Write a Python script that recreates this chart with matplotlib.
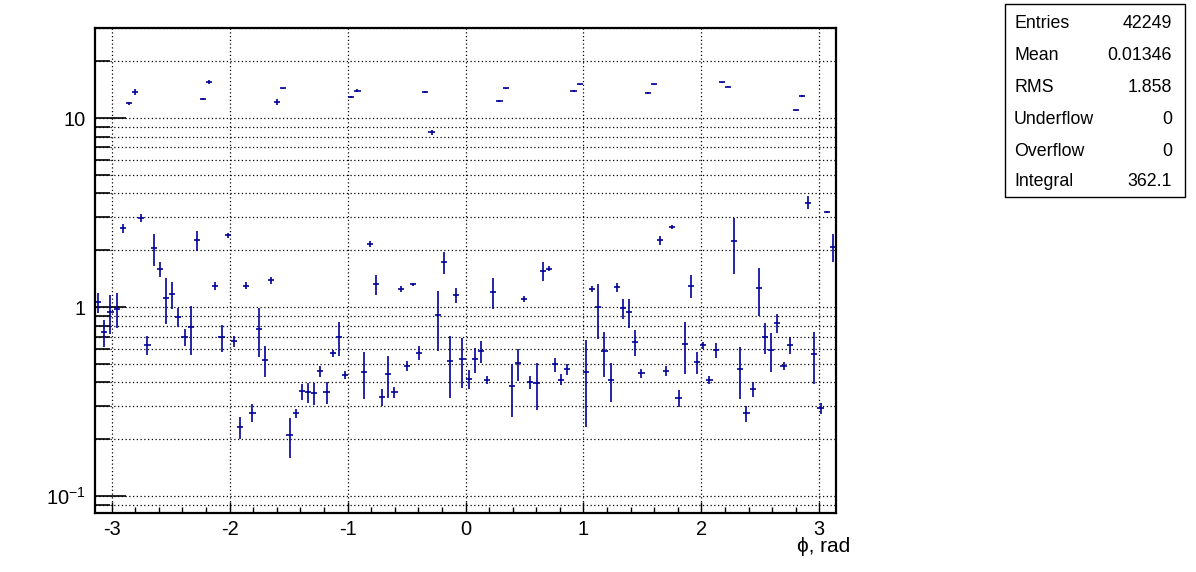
import numpy as np
import matplotlib.pyplot as plt
from matplotlib.ticker import LogLocator, NullFormatter, MultipleLocator, FixedLocator

plt.rcParams['font.family'] = ['Liberation Sans', 'DejaVu Sans']
plt.rcParams['mathtext.default'] = 'regular'
plt.rcParams['axes.unicode_minus'] = False

n_bins = 120

counts = [
    1.06, 0.737, 0.941, 0.98, 2.61, 12.0, 13.8, 2.98, 0.63, 2.05,
    1.59, 1.12, 1.17, 0.889, 0.694, 0.787, 2.26, 12.6, 15.5, 1.30,
    0.694, 2.41, 0.661, 0.232, 1.30, 0.277, 0.768, 0.524, 1.39, 12.2,
    14.4, 0.210, 0.275, 0.359, 0.355, 0.351, 0.459, 0.355, 0.571, 0.694,
    0.438, 12.9, 14.0, 0.453, 2.16, 1.32, 0.335, 0.442, 0.355, 1.245,
    0.489, 1.32, 0.575, 13.7, 8.42, 0.907, 1.73, 0.518, 1.157, 0.531,
    0.416, 0.531, 0.585, 0.411, 1.205, 12.3, 14.4, 0.383, 0.505, 1.11,
    0.401, 0.396, 1.55, 1.60, 0.499, 0.414, 0.470, 14.0, 15.1, 0.453,
    1.25, 1.0, 0.585, 0.411, 1.276, 0.99, 0.941, 0.655, 0.447, 13.6,
    15.1, 2.26, 0.459, 2.66, 0.330, 0.639, 1.30, 0.512, 0.63, 0.411,
    0.594, 15.5, 14.7, 2.23, 0.470, 0.275, 0.368, 1.26, 0.694, 0.594,
    0.823, 0.489, 0.63, 11.0, 13.1, 3.58, 0.564, 0.292, 3.19, 2.08,
]

errors = [
    0.13, 0.117, 0.218, 0.207, 0.137, 0.22, 0.505, 0.145, 0.072, 0.40,
    0.149, 0.30, 0.195, 0.105, 0.073, 0.227, 0.267, 0.15, 0.38, 0.063,
    0.116, 0.073, 0.046, 0.031, 0.058, 0.031, 0.225, 0.098, 0.056, 0.49,
    0.09, 0.051, 0.016, 0.034, 0.042, 0.048, 0.030, 0.049, 0.023, 0.144,
    0.023, 0.16, 0.29, 0.125, 0.079, 0.166, 0.034, 0.11, 0.025, 0.046,
    0.030, 0.027, 0.049, 0.17, 0.24, 0.317, 0.239, 0.185, 0.103, 0.155,
    0.047, 0.080, 0.076, 0.020, 0.23, 0.15, 0.09, 0.12, 0.097, 0.041,
    0.033, 0.11, 0.176, 0.052, 0.043, 0.027, 0.034, 0.17, 0.09, 0.22,
    0.05, 0.32, 0.155, 0.097, 0.067, 0.121, 0.168, 0.101, 0.022, 0.12,
    0.09, 0.119, 0.028, 0.055, 0.035, 0.197, 0.174, 0.069, 0.028, 0.020,
    0.056, 0.13, 0.13, 0.73, 0.143, 0.027, 0.033, 0.36, 0.127, 0.138,
    0.094, 0.024, 0.064, 0.09, 0.16, 0.277, 0.172, 0.019, 0.039, 0.355,
]

stat_names = ["Entries", "Mean", "RMS", "Underflow", "Overflow", "Integral"]
stat_values = ["42249", "0.01346", "1.858", "0", "0", "362.1"]

edges = np.linspace(-np.pi, np.pi, n_bins + 1)
centers = (edges[:-1] + edges[1:]) / 2
half = np.diff(edges) / 2

W, H = 1196, 572
fig = plt.figure(figsize=(W / 100, H / 100), dpi=100)
ax = fig.add_axes([95 / W, 1 - 513 / H, 741 / W, 485 / H])

col = "#000099"
ax.errorbar(centers, counts, xerr=half, yerr=errors, fmt="none",
            ecolor=col, elinewidth=1.2, capsize=0)

ax.set_yscale("log")
ax.set_xlim(-np.pi, np.pi)
ax.set_ylim(0.0816, 30)

ax.xaxis.set_major_locator(MultipleLocator(1))
ax.xaxis.set_minor_locator(MultipleLocator(0.2))
ax.yaxis.set_major_locator(FixedLocator([0.1, 1, 10]))
ax.yaxis.set_minor_locator(LogLocator(base=10, subs=np.arange(2, 10)))
ax.yaxis.set_minor_formatter(NullFormatter())
ax.set_yticklabels(["$10^{-1}$", "1", "10"])

ax.grid(True, which="major", axis="x", color="black", linestyle=(0, (1, 2)), linewidth=0.9)
ax.grid(True, which="both", axis="y", color="black", linestyle=(0, (1, 2)), linewidth=0.9)

ax.tick_params(axis="y", which="major", direction="in", length=22, width=1.2, labelsize=14.4, pad=7)
ax.tick_params(axis="y", which="minor", direction="in", length=11, width=1.2)
ax.tick_params(axis="x", which="major", direction="in", length=8, width=1, labelsize=14.4, pad=5)
ax.tick_params(axis="x", which="minor", direction="in", length=4, width=1)

for s in ax.spines.values():
    s.set_linewidth(1.6)

fig.text(850 / W, 1 - 547 / H, "ϕ, rad", ha="right", va="center", fontsize=15)

# stats box
box = plt.Rectangle((1005 / W, 1 - 197 / H), 180 / W, 193 / H, transform=fig.transFigure,
                    fill=False, edgecolor="black", linewidth=1)
fig.patches.append(box)
rows_y = [23, 55, 88, 120, 152, 182]
for name, val, yy in zip(stat_names, stat_values, rows_y):
    fig.text(1014 / W, 1 - yy / H, name, ha="left", va="center", fontsize=12.8)
    fig.text(1172 / W, 1 - yy / H, val, ha="right", va="center", fontsize=12.8)

fig.savefig("out.png", dpi=100)
